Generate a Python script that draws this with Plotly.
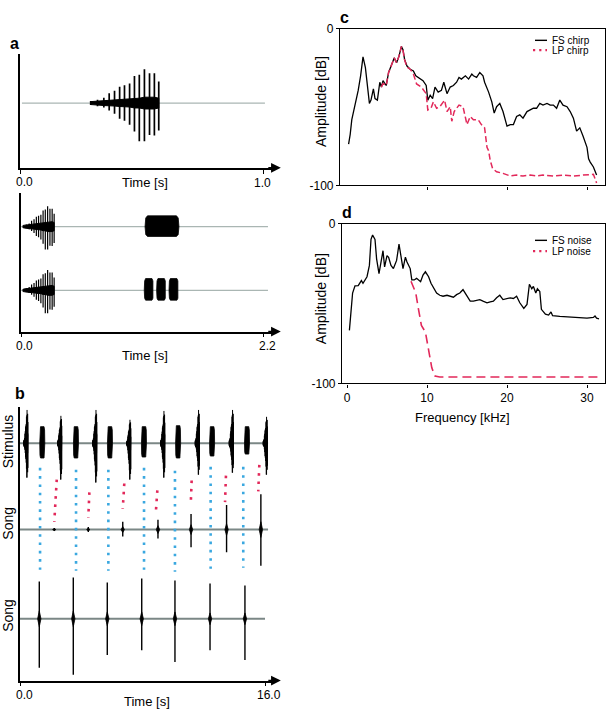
import plotly.graph_objects as go

W, H = 610, 716
FONT = "Liberation Sans, Arial, Helvetica, sans-serif"
RED = "#e2285a"
BLUE = "#3aa8e0"

# ---------------- data ----------------
# Panel a (top): chirp pulse train: time [s], amplitude above / below baseline, dense body
chirp_t = [0.291, 0.319, 0.345, 0.367, 0.389, 0.410, 0.430, 0.451, 0.471, 0.491, 0.512, 0.533, 0.553, 0.571]
chirp_up = [2, 3.5, 5.5, 10, 12.5, 16.7, 18.3, 20, 27.5, 29, 34.5, 30.5, 30.5, 22]
chirp_down = [2, 3.3, 4.5, 7.5, 11, 16, 18, 22, 29, 39, 39, 32.5, 33, 28]
chirp_body = [1.5, 2, 2.5, 3, 3, 3.5, 4, 4, 5, 5, 6, 6, 6, 5]

# Panel a (bottom): chirp followed by continuous noise (row 1) or three noise pulses (row 2)
a2_chirp_onset = 0.02
a2_chirp_gain = 0.6
a2_noise1_start = [1.123]
a2_noise1_end = [1.430]
a2_noise1_up = [11]
a2_noise1_down = [10]
a2_noise2_start = [1.116, 1.228, 1.340]
a2_noise2_end = [1.198, 1.310, 1.424]
a2_noise2_up = [12, 12, 12]
a2_noise2_down = [10, 10, 10]

# Panel b: stimulus chirps (onset, peak up/down), stimulus noise blocks, songs
stim_chirp_onset = [0.24, 2.45, 4.74, 6.96, 9.18, 11.44, 13.66, 15.88]
stim_chirp_up = [34, 28, 34, 24, 33, 34, 34, 27]
stim_chirp_down = [35, 37, 40, 37, 35, 32, 30, 32]
stim_block_start = [1.29, 3.49, 5.71, 7.93, 10.16, 12.38, 14.66]
stim_block_end = [1.62, 3.82, 6.04, 8.26, 10.49, 12.71, 14.99]
stim_block_up = [17, 17, 17, 17, 18, 17, 17]
stim_block_down = [15, 15, 15, 14, 15, 13, 11]

song1_t = [2.24, 4.46, 6.71, 9.01, 11.17, 13.49, 15.73]
song1_up = [1.5, 2.5, 8, 10, 16, 25, 36]
song1_down = [1.5, 2.5, 7, 9, 18, 23, 37]
song1_body = [1, 1.5, 3, 4, 5, 6, 8]

song2_t = [1.26, 3.48, 5.70, 7.95, 10.12, 12.41, 14.69]
song2_up = [38, 42, 37, 41, 39, 36, 34]
song2_down = [50, 57, 37, 32, 44, 32, 42]
song2_body = [8, 8, 7, 7, 7, 6, 6]

blue_t = [1.31, 3.66, 5.77, 8.10, 10.12, 12.45, 14.58]
blue_top = [-25, -27, -27, -25, -28, -24, -24]
blue_bot = [-129, -130, -130, -129, -131, -128, -127]

red_t_top = [2.40, 4.53, 6.81, 8.97, 11.21, 13.45, 15.63]
red_t_bot = [2.24, 4.46, 6.71, 8.86, 11.15, 13.39, 15.56]
red_top = [-37, -50, -41, -48, -38, -33, -22]
red_bot = [-80, -76, -67, -73, -63, -60, -49]

# Panel c: spectra of chirp (full spectrum / low-pass)
fs_chirp_f = [0.2, 0.4, 0.6, 1.0, 1.4, 1.7, 2.0, 2.3, 2.6, 2.8, 3.0, 3.3, 3.5, 3.8, 4.1, 4.3, 4.5, 4.9, 5.2, 5.6,
              5.9, 6.2, 6.5, 6.8, 7.0, 7.2, 7.5, 7.9, 8.3, 8.6, 8.9, 9.2, 9.5, 9.9, 10.1, 10.4, 10.7, 11.0, 11.4, 11.8,
              12.1, 12.5, 12.9, 13.3, 13.7, 14.0, 14.3, 14.8, 15.2, 15.6, 15.8, 16.2, 16.6, 17.0, 17.2, 17.7, 18.1, 18.4, 18.7, 19.1,
              19.5, 20.0, 20.4, 20.8, 21.2, 21.6, 22.0, 22.5, 22.9, 23.3, 23.7, 24.1, 24.5, 25.0, 25.4, 25.8, 26.2, 26.6, 27.0, 27.5,
              27.9, 28.3, 28.7, 29.1, 29.5, 30.0, 30.2, 30.4, 30.8, 31.2]
fs_chirp_db = [-73.7, -67.4, -58.1, -48.8, -39.4, -30.1, -18.0, -24.9, -40.5, -47.7, -45.6, -38.4, -44.6, -45.6, -34.2, -37.3, -33.2, -36.3, -28.0, -22.8,
               -18.7, -21.8, -17.6, -11.4, -13.5, -19.7, -23.9, -25.9, -27.0, -30.1, -31.1, -32.2, -33.2, -36.3, -45.6, -42.5, -44.6, -37.3, -40.5, -39.4,
               -34.2, -41.5, -37.3, -36.3, -34.2, -31.1, -32.2, -30.1, -32.2, -29.0, -30.1, -31.1, -28.0, -30.1, -34.2, -40.5, -46.7, -53.9, -49.8, -47.7,
               -52.9, -62.2, -61.2, -61.2, -56.0, -55.0, -57.1, -52.9, -51.9, -50.8, -50.8, -47.7, -48.8, -47.7, -48.8, -48.8, -50.8, -45.6, -48.8, -49.8,
               -52.9, -57.1, -65.4, -63.3, -68.5, -75.7, -83.0, -85.1, -88.2, -93.4]
lp_chirp_f = [4.3, 4.5, 4.9, 5.2, 5.6, 5.9, 6.2, 6.5, 6.8, 7.0, 7.2, 7.5, 7.9, 8.3, 8.7, 9.3, 9.9, 10.1, 10.5, 10.8,
              11.2, 11.6, 12.2, 12.5, 12.9, 13.1, 13.4, 13.7, 14.0, 14.5, 15.0, 15.4, 15.8, 16.4, 16.8, 17.2, 17.5, 17.7, 17.9, 18.2,
              18.7, 19.5, 20.4, 21.2, 22.0, 22.9, 23.7, 24.5, 25.8, 27.0, 28.3, 29.5, 30.8, 31.2]
lp_chirp_db = [-37.3, -35.0, -36.3, -28.0, -22.8, -18.7, -21.8, -17.6, -11.4, -14.0, -20.0, -24.5, -25.9, -29.0, -35.3, -37.3, -41.5, -51.9, -50.8, -46.7,
               -50.8, -49.8, -45.6, -52.9, -49.8, -59.1, -52.9, -50.8, -48.8, -49.8, -61.2, -56.0, -58.1, -58.1, -61.2, -63.3, -75.7, -77.8, -84.0, -89.2,
               -91.3, -92.3, -94.0, -93.4, -94.0, -93.4, -94.0, -93.4, -94.0, -93.4, -94.0, -93.4, -92.9, -98.5]

# Panel d: spectra of noise
fs_noise_f = [0.3, 0.5, 0.7, 1.0, 1.4, 1.8, 2.0, 2.5, 2.8, 3.0, 3.2, 3.5, 3.7, 4.0, 4.2, 4.5, 4.7, 5.0, 5.2, 5.5,
              5.8, 6.2, 6.5, 6.8, 7.0, 7.3, 7.5, 7.9, 8.1, 8.4, 8.7, 9.2, 9.5, 9.8, 10.2, 10.5, 10.8, 11.2, 11.6, 12.0,
              12.5, 12.9, 13.3, 13.7, 14.1, 14.5, 15.0, 15.4, 15.8, 16.2, 16.6, 17.0, 17.5, 17.9, 18.3, 18.7, 19.1, 19.5, 20.0, 20.4,
              20.8, 21.2, 21.6, 22.1, 22.5, 22.8, 23.1, 23.3, 23.6, 23.8, 24.1, 24.3, 24.8, 25.2, 25.5, 25.7, 26.6, 27.5, 28.7, 30.0,
              30.8, 31.0, 31.2, 31.5]
fs_noise_db = [-66.8, -54.6, -43.4, -38.9, -38.7, -35.6, -37.3, -33.2, -26.1, -9.8, -7.1, -9.8, -22.0, -31.2, -26.1, -16.9, -27.1, -20.0, -21.0, -26.1,
               -28.1, -23.0, -12.8, -23.0, -28.1, -21.0, -24.0, -28.1, -35.2, -35.2, -34.2, -36.3, -32.2, -30.1, -33.2, -37.3, -40.3, -43.4, -44.8, -45.4,
               -44.8, -45.4, -46.0, -44.4, -43.4, -41.3, -45.4, -48.5, -48.5, -47.9, -47.5, -48.5, -49.5, -48.9, -48.5, -46.4, -44.8, -47.5, -46.8, -46.4,
               -46.8, -45.4, -49.5, -53.0, -50.5, -37.9, -40.7, -39.3, -43.4, -40.7, -42.4, -53.6, -56.6, -57.2, -55.2, -57.6, -58.0, -58.2, -58.7, -59.1,
               -58.7, -57.8, -59.1, -59.5]
lp_noise_f = [8.0, 8.3, 8.6, 8.9, 9.3, 9.8, 10.2, 10.6, 11.0, 11.6, 31.5]
lp_noise_db = [-36.0, -39.3, -43.4, -52.5, -63.7, -67.8, -78.0, -90.2, -95.3, -95.9, -95.9]

# ---------------- helpers ----------------
def px(x):
    return x / W


def py(y):
    return 1 - y / H


fig = go.Figure()


def add(xs, ys, ax, color="black", width=1.2, dash=None, fill=None):
    xa, ya = ax
    fig.add_trace(go.Scatter(
        x=xs, y=ys, mode="lines", xaxis=xa, yaxis=ya, showlegend=False, hoverinfo="skip",
        line=dict(color=color, width=width, dash=dash),
        fill=fill, fillcolor=color if fill else None))


def pulses(ts, ups, downs, offset=0.0):
    xs, ys = [], []
    for t, u, d in zip(ts, ups, downs):
        xs += [t, t, None]
        ys += [offset - d, offset + u, None]
    return xs, ys


def envelope(ts, bodies, offset=0.0):
    xs = list(ts) + list(reversed(ts)) + [ts[0], None]
    ys = [offset + b for b in bodies] + [offset - b for b in reversed(bodies)] + [offset + bodies[0], None]
    return xs, ys


def blocks(t0s, t1s, ups, downs, ramp, offset=0.0):
    xs, ys = [], []
    for t0, t1, u, d in zip(t0s, t1s, ups, downs):
        xs += [t0, t0 + ramp * 0.3, t0 + ramp, t1 - ramp, t1 - ramp * 0.3, t1,
               t1 - ramp * 0.3, t1 - ramp, t0 + ramp, t0 + ramp * 0.3, t0, None]
        ys += [offset, offset + u * 0.8, offset + u, offset + u, offset + u * 0.8, offset,
               offset - d * 0.8, offset - d, offset - d, offset - d * 0.8, offset, None]
    return xs, ys


def diamonds(ts, bodies, half, offset=0.0):
    xs, ys = [], []
    for t, b in zip(ts, bodies):
        xs += [t - half, t, t + half, t, t - half, None]
        ys += [offset, offset + b, offset, offset - b, offset, None]
    return xs, ys


A1 = ("x", "y")
A2 = ("x2", "y2")
B = ("x3", "y3")
C = ("x4", "y4")
D = ("x5", "y5")
BASE_LIGHT = "#aab6b3"
BASE_DARK = "#7b8786"

# ---------------- panel a top ----------------
add([0.008, 1.008], [0, 0], A1, BASE_LIGHT, 1.2)
xs, ys = envelope(chirp_t, chirp_body)
add(xs, ys, A1, "black", 1, fill="toself")
xs, ys = pulses(chirp_t, chirp_up, chirp_down)
add(xs, ys, A1, "black", 1.7)

# ---------------- panel a bottom ----------------
ROW2 = -65
a2_t = [a2_chirp_onset + (t - chirp_t[0]) for t in chirp_t]
a2_up = [u * a2_chirp_gain for u in chirp_up]
a2_dn = [d * a2_chirp_gain for d in chirp_down]
a2_bd = [b * a2_chirp_gain * 1.4 for b in chirp_body]
for off in (0, ROW2):
    add([0, 2.236], [off, off], A2, BASE_LIGHT, 1.2)
    xs, ys = envelope(a2_t, a2_bd, off)
    add(xs, ys, A2, "black", 1, fill="toself")
    xs, ys = pulses(a2_t, a2_up, a2_dn, off)
    add(xs, ys, A2, "black", 1.2)
xs, ys = blocks(a2_noise1_start, a2_noise1_end, a2_noise1_up, a2_noise1_down, 0.022)
add(xs, ys, A2, "black", 0.8, fill="toself")
xs, ys = blocks(a2_noise2_start, a2_noise2_end, a2_noise2_up, a2_noise2_down, 0.012, ROW2)
add(xs, ys, A2, "black", 0.8, fill="toself")

# ---------------- panel b ----------------
S1, S2 = -88, -179
add([0, 16.2], [0, 0], B, BASE_DARK, 2)
add([0, 16.2], [S1, S1], B, BASE_DARK, 2)
add([0, 16.0], [S2, S2], B, BASE_DARK, 2)

pmax_u, pmax_d = max(chirp_up), max(chirp_down)
sx, sy, bx, by = [], [], [], []
for T, U, Dn in zip(stim_chirp_onset, stim_chirp_up, stim_chirp_down):
    ts = [T + (t - chirp_t[0]) for t in chirp_t]
    xs, ys = pulses(ts, [u * U / pmax_u for u in chirp_up], [d * Dn / pmax_d for d in chirp_down])
    sx += xs
    sy += ys
    xs, ys = envelope(ts, [b * 1.7 * U / pmax_u for b in chirp_body])
    bx += xs
    by += ys
add(bx, by, B, "black", 1, fill="toself")
add(sx, sy, B, "black", 1.0)
xs, ys = blocks(stim_block_start, stim_block_end, stim_block_up, stim_block_down, 0.05)
add(xs, ys, B, "black", 0.8, fill="toself")

for ts, us, ds, bs, off in ((song1_t, song1_up, song1_down, song1_body, S1),
                            (song2_t, song2_up, song2_down, song2_body, S2)):
    xs, ys = pulses(ts, us, ds, off)
    add(xs, ys, B, "black", 1.4)
    xs, ys = diamonds(ts, bs, 0.11, off)
    add(xs, ys, B, "black", 0.8, fill="toself")

DOTS = "2.6px,5.7px"
for t, y0, y1 in zip(blue_t, blue_top, blue_bot):
    add([t, t], [y0, y1], B, BLUE, 2.6, dash=DOTS)
for t0, t1, y0, y1 in zip(red_t_top, red_t_bot, red_top, red_bot):
    add([t0, t1], [y0, y1], B, RED, 2.6, dash=DOTS)

# ---------------- panels c, d ----------------
add(fs_chirp_f, fs_chirp_db, C, "black", 1.3)
add(lp_chirp_f, lp_chirp_db, C, RED, 1.5, dash="6px,3px")
add(fs_noise_f, fs_noise_db, D, "black", 1.3)
add(lp_noise_f, lp_noise_db, D, RED, 1.6, dash="9px,5px")

# ---------------- axes ----------------
def wave_axes(xd, yd, xr, yr, tickvals):
    xa = dict(domain=[px(xd[0]), px(xd[1])], range=xr, showline=True, linecolor="black", linewidth=1.6,
              ticks="outside", tickvals=tickvals, ticklen=4, tickwidth=1.3, tickcolor="black",
              showticklabels=False, showgrid=False, zeroline=False, fixedrange=True)
    ya = dict(domain=[py(yd[1]), py(yd[0])], range=yr, showline=True, linecolor="black", linewidth=1.6,
              ticks="", showticklabels=False, showgrid=False, zeroline=False, fixedrange=True)
    return xa, ya


def spec_axes(xd, yd, xr, tickvals, labels):
    xa = dict(domain=[px(xd[0]), px(xd[1])], range=xr, showline=True, mirror=True, linecolor="black",
              linewidth=1.2, ticks="outside", tickvals=tickvals, ticklen=3, tickwidth=1, tickcolor="black",
              showticklabels=labels, tickfont=dict(family=FONT, size=12, color="black"),
              showgrid=False, zeroline=False, fixedrange=True)
    ya = dict(domain=[py(yd[1]), py(yd[0])], range=[-100, 0], showline=True, mirror=True, linecolor="black",
              linewidth=1.2, ticks="outside", tickvals=[0, -100], ticktext=["0", "-100"], ticklen=3,
              tickwidth=1, tickcolor="black", tickfont=dict(family=FONT, size=12, color="black"),
              showgrid=False, zeroline=False, fixedrange=True)
    return xa, ya


x1, y1 = wave_axes((20, 272), (48, 164), [0, 252 / 243], [-66, 50], [0, 1.0])
x2, y2 = wave_axes((21, 272), (190, 331), [0, 251 / 110.45], [-107, 34], [0, 2.2])
x3, y3 = wave_axes((20, 272), (408, 687), [0, 252 / 15.3125], [-242, 37], [0, 16.0])
x4, y4 = spec_axes((340, 605), (22, 182), [-0.875, 32.25], [10, 20, 30], False)
x5, y5 = spec_axes((342, 605), (221, 384), [-0.625, 32.25], [0, 10, 20, 30], True)
for a, b_, n in ((x1, y1, ""), (x2, y2, "2"), (x3, y3, "3"), (x4, y4, "4"), (x5, y5, "5")):
    a["anchor"] = "y" + n
    b_["anchor"] = "x" + n

annotations = []


def text(s, x, y, size=12, bold=False, angle=0, xanchor="center"):
    annotations.append(dict(text=("<b>%s</b>" % s) if bold else s, x=px(x), y=py(y), xref="paper", yref="paper",
                            showarrow=False, xanchor=xanchor, yanchor="middle", textangle=angle,
                            font=dict(family=FONT, size=size, color="black")))


# arrowheads at the end of the time axes
for n in ("", "2", "3"):
    annotations.append(dict(x=1.035, y=0, xref="x%s domain" % n, yref="y%s domain" % n, ax=-14, ay=0,
                            axref="pixel", ayref="pixel", text="", showarrow=True, arrowhead=2,
                            arrowsize=1.3, arrowwidth=1.5, arrowcolor="black"))

text("a", 14, 37, 16, True)
text("b", 20, 394, 16, True)
text("c", 344, 11, 16, True)
text("d", 347, 210, 16, True)

text("0.0", 25, 178, 12)
text("Time [s]", 145, 179, 13)
text("1.0", 262, 179, 12)
text("0.0", 25, 346, 12)
text("Time [s]", 145, 355, 13)
text("2.2", 267, 346, 12)
text("0.0", 24, 702, 12)
text("Time [s]", 147, 708, 13)
text("16.0", 269, 702, 12)

text("Stimulus", 8, 443, 14, angle=-90)
text("Song", 8, 527, 14, angle=-90)
text("Song", 8, 621, 14, angle=-90)

text("Amplitude [dB]", 321, 97, 14, angle=-90)
text("Amplitude [dB]", 321, 298, 14, angle=-90)
text("Frequency [kHz]", 462, 419, 13)

# legends (c and d)
shapes = []
for (y_fs, y_lp, l1, l2) in ((34, 44, "FS chirp", "LP chirp"), (238, 249, "FS noise", "LP noise")):
    shapes.append(dict(type="line", xref="paper", yref="paper", x0=px(535), x1=px(547), y0=py(y_fs), y1=py(y_fs),
                       line=dict(color="black", width=1.4)))
    shapes.append(dict(type="line", xref="paper", yref="paper", x0=px(533), x1=px(547), y0=py(y_lp), y1=py(y_lp),
                       line=dict(color=RED, width=2.2, dash="2.2px,4px")))
    text(l1, 550, y_fs, 10, xanchor="left")
    text(l2, 550, y_lp, 10, xanchor="left")

fig.update_layout(
    width=W, height=H, margin=dict(l=0, r=0, t=0, b=0), paper_bgcolor="white", plot_bgcolor="white",
    showlegend=False, xaxis=x1, yaxis=y1, xaxis2=x2, yaxis2=y2, xaxis3=x3, yaxis3=y3,
    xaxis4=x4, yaxis4=y4, xaxis5=x5, yaxis5=y5, annotations=annotations, shapes=shapes,
    font=dict(family=FONT, color="black"),
)

fig.write_html(
    "out.html",
    config={"displayModeBar": False, "responsive": False},
    post_script="document.body.style.margin='0';document.body.style.overflow='hidden';",
)
